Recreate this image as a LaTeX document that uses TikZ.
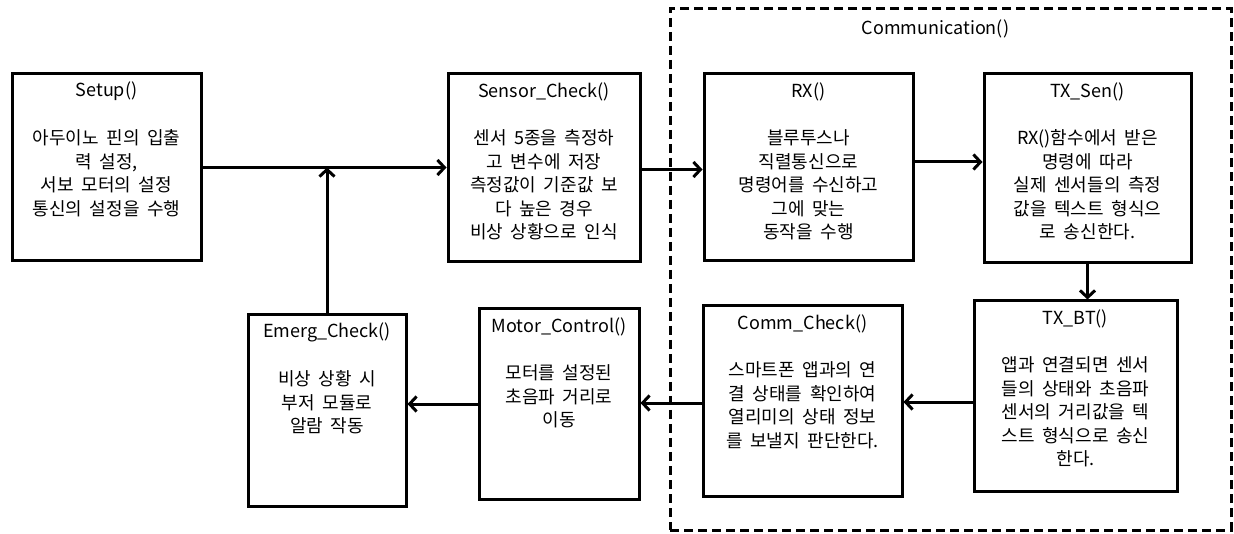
\documentclass[tikz,border=0pt]{standalone}
\usepackage{fontspec}
\setmainfont{Noto Sans CJK KR}
\usetikzlibrary{arrows.meta,calc}
\newcommand{\widewords}{\spaceskip=0.42em\relax}
\begin{document}
\begin{tikzpicture}[x=1pt,y=-1pt,
  fn/.style={draw, line width=3pt, rectangle, inner sep=0pt},
  grp/.style={draw, line width=3pt, dash pattern=on 9pt off 5pt, rectangle, inner sep=0pt},
  ttl/.style={font=\fontsize{18}{23.5}\selectfont, anchor=center, inner sep=0pt},
  body/.style={font=\fontsize{18}{23.5}\selectfont\widewords, align=center, anchor=north, inner sep=0pt},
  flow/.style={line width=3pt, -{Straight Barb[length=7pt,width=15pt,line width=3pt]}}]
\useasboundingbox (0,0) rectangle (1234,534);

% communication group frame
\node[grp, minimum width=561pt, minimum height=521pt] (comms) at (950.5,269.5) {};
\node[ttl] (commsttl) at ($(comms.north)+(-15,21)$) {Communication()};

% function blocks
\node[fn, minimum width=189pt, minimum height=187pt] (setup)  at (106.5,167.5) {};
\node[fn, minimum width=192pt, minimum height=188pt] (sensor) at (544,168) {};
\node[fn, minimum width=209pt, minimum height=187pt] (rx)     at (808.5,167.5) {};
\node[fn, minimum width=207pt, minimum height=189pt] (txsen)  at (1087.5,168.5) {};
\node[fn, minimum width=158pt, minimum height=191pt] (emerg)  at (327,410.5) {};
\node[fn, minimum width=160pt, minimum height=190pt] (motor)  at (559,404) {};
\node[fn, minimum width=199pt, minimum height=190pt] (comm)   at (802.5,401) {};
\node[fn, minimum width=203pt, minimum height=190pt] (txbt)   at (1075.5,396) {};

% block titles
\foreach \b/\t in {setup/Setup(), sensor/Sensor\_Check(), rx/RX(), txsen/TX\_Sen(),
                   emerg/Emerg\_Check(), motor/Motor\_Control(), comm/Comm\_Check(), txbt/TX\_BT()}
  \node[ttl] (\b-title) at ($(\b.north)+(0,19)$) {\t};

% block descriptions
\node[body] (setup-body) at ($(setup.north)+(0,57)$)
  {아두이노 핀의 입출\\력 설정,\\서보 모터의 설정\\통신의 설정을 수행};
\node[body] (sensor-body) at ($(sensor.north)+(0,57)$)
  {센서 5종을 측정하\\고 변수에 저장\\측정값이 기준값 보\\다 높은 경우\\비상 상황으로 인식};
\node[body] (rx-body) at ($(rx.north)+(0,57)$)
  {블루투스나\\직렬통신으로\\명령어를 수신하고\\그에 맞는\\동작을 수행};
\node[body] (txsen-body) at ($(txsen.north)+(0,57)$)
  {RX()함수에서 받은\\명령에 따라\\실제 센서들의 측정\\값을 텍스트 형식으\\로 송신한다.};
\node[body] (emerg-body) at ($(emerg.north)+(0,57)$)
  {비상 상황 시\\부저 모듈로\\알람 작동};
\node[body] (motor-body) at ($(motor.north)+(0,57)$)
  {모터를 설정된\\초음파 거리로\\이동};
\node[body] (comm-body) at ($(comm.north)+(0,57)$)
  {스마트폰 앱과의 연\\결 상태를 확인하여\\열리미의 상태 정보\\를 보낼지 판단한다.};
\node[body] (txbt-body) at ($(txbt.north)+(0,57)$)
  {앱과 연결되면 센서\\들의 상태와 초음파\\센서의 거리값을 텍\\스트 형식으로 송신\\한다.};

% control flow
\coordinate (join) at (emerg.north |- setup.east);
\draw[flow] (setup.east) -- (setup.east -| sensor.west);
\draw[flow] (emerg.north) -- (join);
\draw[flow] ([yshift=-1.5pt]sensor.east) -- ([yshift=-1.5pt]sensor.east -| rx.west);
\draw[flow] ([yshift=5.5pt]rx.east) -- ([yshift=5.5pt]rx.east -| txsen.west);
\draw[flow] (txsen.south) -- (txsen.south |- txbt.north);
\draw[flow] ([yshift=-6pt]txbt.west) -- ([yshift=-6pt]txbt.west -| comm.east);
\draw[flow] ([yshift=-2pt]comm.west) -- ([yshift=-2pt]comm.west -| motor.east);
\draw[flow] (motor.west) -- (motor.west -| emerg.east);
\end{tikzpicture}
\end{document}
